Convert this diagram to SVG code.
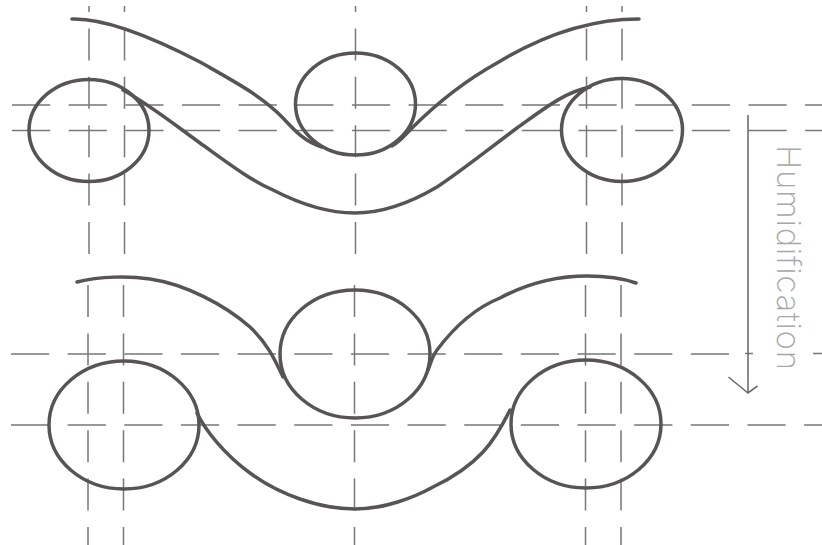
<svg xmlns="http://www.w3.org/2000/svg" width="822" height="545" viewBox="0 0 822 545">
<style>
.d{fill:none;stroke:#777;stroke-width:1.5}
.v{stroke-dasharray:32 16.4}
.h{stroke-dasharray:38.2 18.45}
.c{fill:none;stroke:#585456;stroke-width:3.5;stroke-linecap:round;stroke-linejoin:round}
.a{fill:none;stroke:#6e6e6e;stroke-width:1.6}
.t{font-family:"Inter","Lato","Liberation Sans",sans-serif;font-weight:200;font-size:33px;fill:#a8a8a8}
</style>
<rect width="822" height="545" fill="#fff"/>
<g id="connectors">
<g id="guides">
<path class="d v" stroke-dashoffset="26" d="M89 6V268"/>
<path class="d v" stroke-dashoffset="26" d="M124.500 6V268"/>
<path class="d v" stroke-dashoffset="26" d="M355.500 6V268"/>
<path class="d v" stroke-dashoffset="26" d="M586.500 6V268"/>
<path class="d v" stroke-dashoffset="26" d="M622 6V268"/>
<path class="d v" d="M88 285V545"/>
<path class="d v" d="M123.500 285V545"/>
<path class="d v" d="M354.500 285V545"/>
<path class="d v" d="M585.500 285V545"/>
<path class="d v" d="M621 285V545"/>
<path class="d h" d="M12 105H822"/>
<path class="d h" d="M12 130.500H822"/>
<path class="d h" d="M11 354H745M745 353.500H753M813 353.500H822"/>
<path class="d h" d="M11 425H822"/>
</g>
<g id="humidification-arrow">
<path class="a" d="M748 115V393M728.500 377L748 393L757.500 386"/>
</g>
</g>
<g id="top-left-circle"><ellipse class="c" cx="89" cy="130.500" rx="60" ry="51"/></g>
<g id="top-middle-circle"><ellipse class="c" cx="355.500" cy="104" rx="60" ry="51"/></g>
<g id="top-right-circle"><ellipse class="c" cx="622" cy="130" rx="60.500" ry="51.500"/></g>
<g id="bottom-left-circle"><ellipse class="c" cx="124" cy="425" rx="75" ry="64"/></g>
<g id="bottom-middle-circle"><ellipse class="c" cx="355" cy="354" rx="75" ry="64"/></g>
<g id="bottom-right-circle"><ellipse class="c" cx="586" cy="424" rx="75" ry="64"/></g>
<g id="top-upper-curve"><path class="c" d="M72 19C105 18 150 36 200 62C235 82 262 96 283 118C295 131 305 142 322 147M392 146C400 142 406 134 412 128C440 100 470 78 497 63C530 43 580 19 639 19"/></g>
<g id="top-lower-curve"><path class="c" d="M123 90C150 105 175 125 200 143C228 163 250 180 273 190C300 204 330 213 355 213C385 213 415 200 437 187C460 172 490 148 517 128C545 108 565 92 590 87"/></g>
<g id="bottom-upper-curve"><path class="c" d="M77 282C100 276 130 276 150 279C185 284 225 305 250 327C268 344 275 360 283 377M428 370C431 362 433 355 437 350C455 326 475 308 500 298C530 282 560 276 587 276C605 276 622 278 636 283"/></g>
<g id="bottom-lower-curve"><path class="c" d="M197 413C205 430 225 455 250 473C280 495 320 509 355 509C385 509 415 497 433 487C452 478 470 466 483 452C495 439 503 424 510 410"/></g>
<g id="label"><text class="t" transform="translate(777 145) rotate(90)" textLength="225" lengthAdjust="spacing">Humidification</text></g>
</svg>
